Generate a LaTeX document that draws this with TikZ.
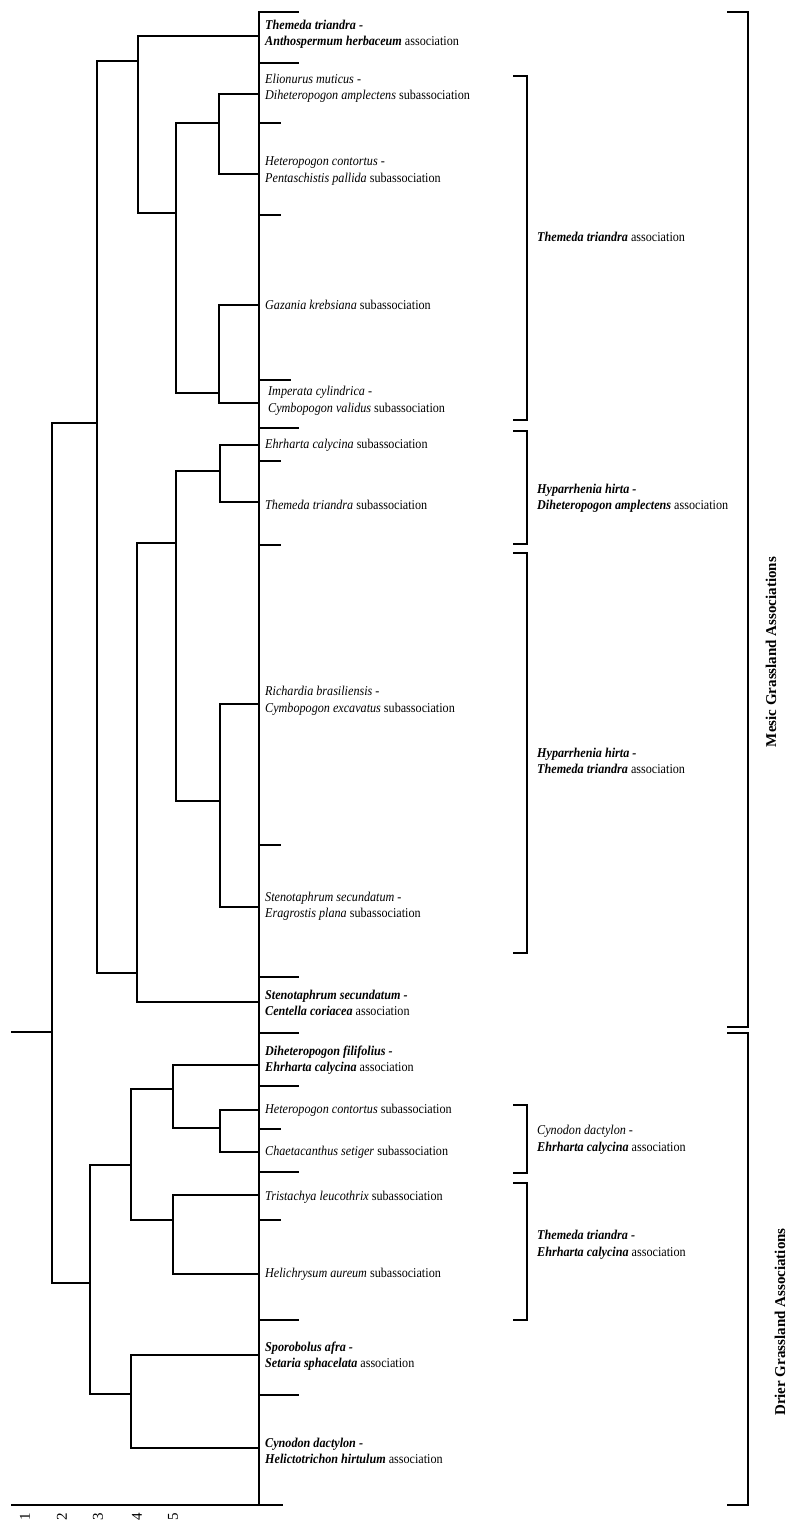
\documentclass[tikz,border=0pt]{standalone}
\usepackage{fontspec}
\setmainfont{Liberation Serif}
\newfontfamily\condfont[FakeStretch=0.9]{Liberation Serif}
\begin{document}
\begin{tikzpicture}[x=1pt,y=-1pt,
  dline/.style={line width=2pt,line cap=rect},
  brk/.style={line width=2pt},
  lab/.style={anchor=west,align=left,inner sep=0pt,font=\condfont\fontsize{13.5}{16.5}\selectfont},
  blab/.style={anchor=west,align=left,inner sep=0pt,font=\condfont\fontsize{13.5}{16.5}\selectfont},
  big/.style={rotate=90,inner sep=0pt,font=\fontsize{15}{17}\selectfont\bfseries},
  axnum/.style={rotate=90,inner sep=0pt,font=\fontsize{15}{16}\selectfont}]
\useasboundingbox (0,0) rectangle (795,1527);
\fill[white] (0,0) rectangle (795,1527);
% leaves on the main line
\coordinate (L1) at (259,36);
\coordinate (L2) at (259,94);
\coordinate (L3) at (259,174);
\coordinate (L4) at (259,305);
\coordinate (L5) at (259,403);
\coordinate (L6) at (259,445);
\coordinate (L7) at (259,502);
\coordinate (L8) at (259,704);
\coordinate (L9) at (259,907);
\coordinate (L10) at (259,1002);
\coordinate (L11) at (259,1065);
\coordinate (L12) at (259,1110);
\coordinate (L13) at (259,1152);
\coordinate (L14) at (259,1195);
\coordinate (L15) at (259,1274);
\coordinate (L16) at (259,1355);
\coordinate (L17) at (259,1448);
% internal nodes
\coordinate (D) at (219,123);
\coordinate (E) at (219,393);
\coordinate (C) at (176,213);
\coordinate (B) at (138,61);
\coordinate (H) at (220,471);
\coordinate (I) at (220,801);
\coordinate (G) at (176,543);
\coordinate (F) at (137,973);
\coordinate (A) at (97,423);
\coordinate (M) at (220,1128);
\coordinate (Q) at (173,1089);
\coordinate (N) at (173,1220);
\coordinate (K) at (131,1165);
\coordinate (O) at (131,1394);
\coordinate (J) at (90,1283);
\coordinate (R) at (52,1032);
\coordinate (S) at (12,1032);
% main line and axis
\coordinate (top) at (259,12);
\coordinate (bot) at (259,1505);
\coordinate (ax0) at (12,1505);
\coordinate (ax1) at (282,1505);
\draw[dline] (top) -- (bot);
\draw[dline] (ax0) -- (ax1);
% dendrogram
\draw[dline] (L2) -| (D) |- (L3);
\draw[dline] (L4) -| (E) |- (L5);
\draw[dline] (D) -| (C) |- (E);
\draw[dline] (L1) -| (B) |- (C);
\draw[dline] (L6) -| (H) |- (L7);
\draw[dline] (L8) -| (I) |- (L9);
\draw[dline] (H) -| (G) |- (I);
\draw[dline] (G) -| (F) |- (L10);
\draw[dline] (B) -| (A) |- (F);
\draw[dline] (L12) -| (M) |- (L13);
\draw[dline] (L11) -| (Q) |- (M);
\draw[dline] (L14) -| (N) |- (L15);
\draw[dline] (Q) -| (K) |- (N);
\draw[dline] (L16) -| (O) |- (L17);
\draw[dline] (K) -| (J) |- (O);
\draw[dline] (A) -| (R) |- (J);
\draw[dline] (S) -- (R);
% separator ticks
\foreach \y in {12,63,428,977,1033,1086,1172,1320,1395}
  \draw[dline] (259,\y) -- (298,\y);
\draw[dline] (259,380) -- (290,380);
\foreach \y in {123,215,461,545,845,1129,1220}
  \draw[dline] (259,\y) -- (280,\y);
% axis numbers
\node[axnum] (n1) at (25,1517) {1};
\node[axnum] (n2) at (62,1517) {2};
\node[axnum] (n3) at (98,1517) {3};
\node[axnum] (n4) at (137,1517) {4};
\node[axnum] (n5) at (173,1517) {5};
% leaf labels
\node[lab] (t1) at (265,34) {\textbf{\textit{Themeda triandra -}}\\\textbf{\textit{Anthospermum herbaceum}} association};
\node[lab] (t2) at (265,88) {\textit{Elionurus muticus -}\\\textit{Diheteropogon amplectens} subassociation};
\node[lab] (t3) at (265,171) {\textit{Heteropogon contortus -}\\\textit{Pentaschistis pallida} subassociation};
\node[lab] (t4) at (265,305) {\textit{Gazania krebsiana} subassociation};
\node[lab] (t5) at (268,401) {\textit{Imperata cylindrica -}\\\textit{Cymbopogon validus} subassociation};
\node[lab] (t6) at (265,445) {\textit{Ehrharta calycina} subassociation};
\node[lab] (t7) at (265,505) {\textit{Themeda triandra} subassociation};
\node[lab] (t8) at (265,701) {\textit{Richardia brasiliensis -}\\\textit{Cymbopogon excavatus} subassociation};
\node[lab] (t9) at (265,906) {\textit{Stenotaphrum secundatum -}\\\textit{Eragrostis plana} subassociation};
\node[lab] (t10) at (265,1003) {\textbf{\textit{Stenotaphrum secundatum -}}\\\textbf{\textit{Centella coriacea}} association};
\node[lab] (t11) at (265,1060) {\textbf{\textit{Diheteropogon filifolius -}}\\\textbf{\textit{Ehrharta calycina}} association};
\node[lab] (t12) at (265,1110) {\textit{Heteropogon contortus} subassociation};
\node[lab] (t13) at (265,1152) {\textit{Chaetacanthus setiger} subassociation};
\node[lab] (t14) at (265,1197) {\textit{Tristachya leucothrix} subassociation};
\node[lab] (t15) at (265,1274) {\textit{Helichrysum aureum} subassociation};
\node[lab] (t16) at (265,1356) {\textbf{\textit{Sporobolus afra -}}\\\textbf{\textit{Setaria sphacelata}} association};
\node[lab] (t17) at (265,1451) {\textbf{\textit{Cynodon dactylon -}}\\\textbf{\textit{Helictotrichon hirtulum}} association};
% association brackets
\draw[brk] (513,76) -- (527,76) -- (527,420) -- (513,420);
\draw[brk] (513,431) -- (527,431) -- (527,544) -- (513,544);
\draw[brk] (513,553) -- (527,553) -- (527,953) -- (513,953);
\draw[brk] (513,1105) -- (527,1105) -- (527,1173) -- (513,1173);
\draw[brk] (513,1183) -- (527,1183) -- (527,1320) -- (513,1320);
\node[blab] (b1) at (537,237) {\textbf{\textit{Themeda triandra}} association};
\node[blab] (b2) at (537,498) {\textbf{\textit{Hyparrhenia hirta -}}\\\textbf{\textit{Diheteropogon amplectens}} association};
\node[blab] (b3) at (537,761) {\textbf{\textit{Hyparrhenia hirta -}}\\\textbf{\textit{Themeda triandra}} association};
\node[blab] (b4) at (537,1140) {\textit{Cynodon dactylon -}\\\textbf{\textit{Ehrharta calycina}} association};
\node[blab] (b5) at (537,1245) {\textbf{\textit{Themeda triandra -}}\\\textbf{\textit{Ehrharta calycina}} association};
% grassland brackets
\draw[brk] (727,12) -- (748,12) -- (748,1027) -- (727,1027);
\draw[brk] (727,1033) -- (748,1033) -- (748,1505) -- (727,1505);
\node[big] (g1) at (771,652) {Mesic Grassland Associations};
\node[big] (g2) at (780,1322) {Drier Grassland Associations};
\end{tikzpicture}
\end{document}
